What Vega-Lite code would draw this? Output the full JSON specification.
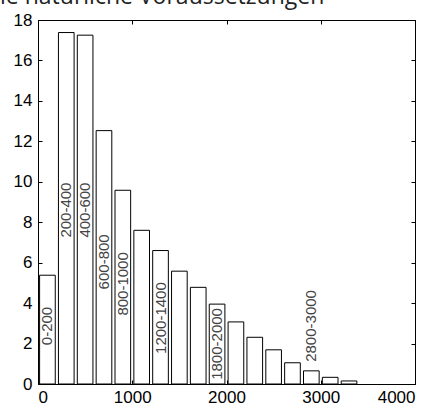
{
  "$schema": "https://vega.github.io/schema/vega-lite/v6.json",
  "width": 377,
  "height": 364,
  "autosize": {"type": "none"},
  "padding": {"left": 38, "top": 20, "right": 22, "bottom": 23},
  "background": "white",
  "title": {
    "text": "ie natürliche Voraussetzungen",
    "anchor": "start",
    "frame": "group",
    "dx": -38,
    "offset": 0,
    "dy": -2,
    "font": "Open Sans",
    "fontSize": 23,
    "fontWeight": "normal",
    "color": "#222"
  },
  "config": {
    "view": {"stroke": "black", "strokeWidth": 1},
    "axis": {
      "grid": false,
      "domainColor": "black",
      "tickColor": "black",
      "labelColor": "black",
      "labelFont": "Liberation Sans",
      "labelFontSize": 17,
      "tickSize": -4,
      "format": "d",
      "title": null
    }
  },
  "data": {
    "values": [
      {"start": 0, "end": 200, "mid": 100, "value": 5.38, "label": "0-200", "labelY": 2.87},
      {"start": 200, "end": 400, "mid": 300, "value": 17.38, "label": "200-400", "labelY": 8.6},
      {"start": 400, "end": 600, "mid": 500, "value": 17.25, "label": "400-600", "labelY": 8.6},
      {"start": 600, "end": 800, "mid": 700, "value": 12.53, "label": "600-800", "labelY": 6.04},
      {"start": 800, "end": 1000, "mid": 900, "value": 9.58, "label": "800-1000", "labelY": 4.95},
      {"start": 1000, "end": 1200, "mid": 1100, "value": 7.6, "label": null, "labelY": null},
      {"start": 1200, "end": 1400, "mid": 1300, "value": 6.6, "label": "1200-1400", "labelY": 3.26},
      {"start": 1400, "end": 1600, "mid": 1500, "value": 5.58, "label": null, "labelY": null},
      {"start": 1600, "end": 1800, "mid": 1700, "value": 4.78, "label": null, "labelY": null},
      {"start": 1800, "end": 2000, "mid": 1900, "value": 3.95, "label": "1800-2000", "labelY": 1.98},
      {"start": 2000, "end": 2200, "mid": 2100, "value": 3.07, "label": null, "labelY": null},
      {"start": 2200, "end": 2400, "mid": 2300, "value": 2.31, "label": null, "labelY": null},
      {"start": 2400, "end": 2600, "mid": 2500, "value": 1.69, "label": null, "labelY": null},
      {"start": 2600, "end": 2800, "mid": 2700, "value": 1.05, "label": null, "labelY": null},
      {"start": 2800, "end": 3000, "mid": 2900, "value": 0.65, "label": "2800-3000", "labelY": 2.87},
      {"start": 3000, "end": 3200, "mid": 3100, "value": 0.33, "label": null, "labelY": null},
      {"start": 3200, "end": 3400, "mid": 3300, "value": 0.15, "label": null, "labelY": null}
    ]
  },
  "layer": [
    {
      "mark": {"type": "bar", "fill": "white", "stroke": "black", "strokeWidth": 1, "xOffset": 1.6, "x2Offset": -1.6},
      "encoding": {
        "x": {
          "field": "start",
          "type": "quantitative",
          "scale": {"domain": [0, 4000], "nice": false},
          "axis": {"orient": "bottom", "values": [0, 1000, 2000, 3000, 4000], "labelPadding": 9}
        },
        "x2": {"field": "end"},
        "y": {
          "field": "value",
          "type": "quantitative",
          "scale": {"domain": [0, 18], "nice": false},
          "axis": {"orient": "left", "values": [0, 2, 4, 6, 8, 10, 12, 14, 16, 18], "labelPadding": 10}
        },
        "y2": {"datum": 0}
      }
    },
    {
      "transform": [{"filter": "datum.label != null"}],
      "mark": {"type": "text", "angle": 270, "align": "center", "baseline": "middle", "font": "Liberation Sans", "fontSize": 15, "color": "#444"},
      "encoding": {
        "x": {"field": "mid", "type": "quantitative", "scale": {"domain": [0, 4000], "nice": false}, "axis": {"orient": "top", "values": [0, 1000, 2000, 3000, 4000], "labels": false}},
        "y": {"field": "labelY", "type": "quantitative", "scale": {"domain": [0, 18], "nice": false}, "axis": {"orient": "right", "values": [0, 2, 4, 6, 8, 10, 12, 14, 16, 18], "labels": false}},
        "text": {"field": "label"}
      }
    }
  ],
  "resolve": {"axis": {"x": "independent", "y": "independent"}}
}
